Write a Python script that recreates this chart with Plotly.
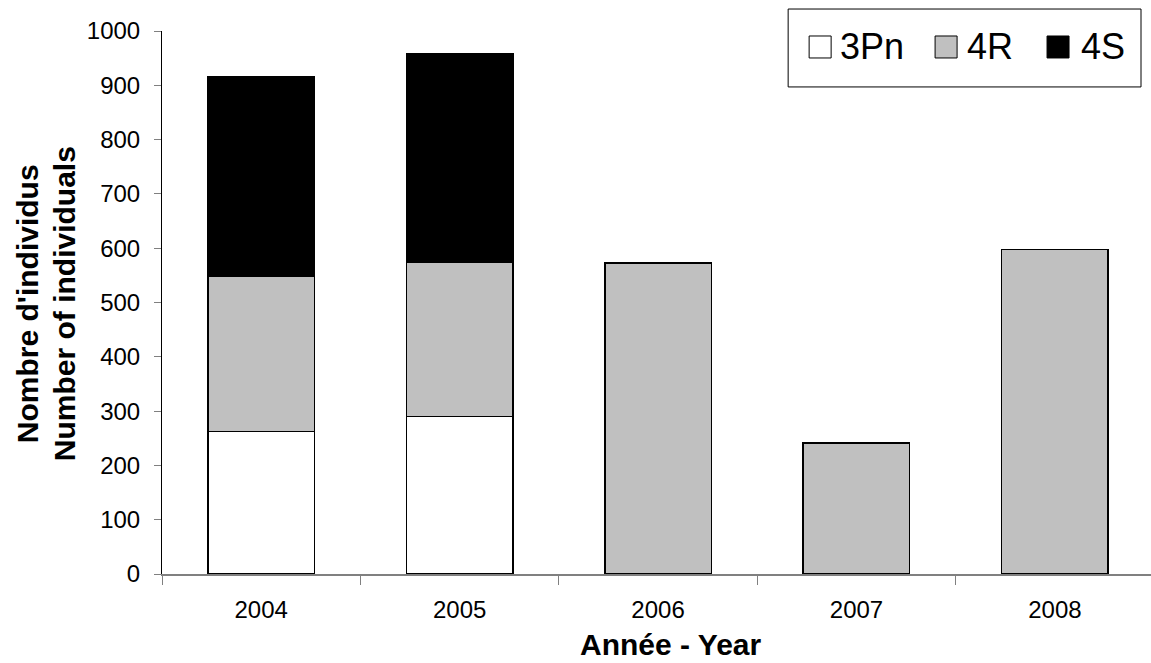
import plotly.graph_objects as go

# Counts per year and management unit
years = ["2004", "2005", "2006", "2007", "2008"]
n_3pn = [262, 290, None, None, None]
n_4r = [287, 284, 573, 241, 598]
n_4s = [367, 384, None, None, None]

series_names = ["3Pn", "4R", "4S"]
series_colors = ["#FFFFFF", "#C0C0C0", "#000000"]
series_values = [n_3pn, n_4r, n_4s]

y_ticks = list(range(0, 1001, 100))

# Figure geometry (pixels)
W, H = 1151, 663
ML, MR, MT, MB = 161.6, 0, 31, 88.5
PW, PH = W - ML - MR, H - MT - MB
CAT_PX = 198.5


def px_x(px):
    return (px - ML) / PW


def px_y(py):
    return (H - MB - py) / PH


FONT = "Liberation Sans, Arial, sans-serif"

fig = go.Figure()
for name, color, vals in zip(series_names, series_colors, series_values):
    fig.add_trace(go.Bar(
        x=years, y=vals, name=name,
        marker=dict(color=color, line=dict(color="#000000", width=1.5)),
        width=0.537, showlegend=False,
    ))

# Legend drawn as a framed box with square swatches
shapes = [dict(type="rect", xref="paper", yref="paper",
               x0=px_x(788), x1=px_x(1141), y0=px_y(87), y1=px_y(9),
               line=dict(color="#000000", width=1), fillcolor="#FFFFFF")]
annotations = []
swatch_left = [809, 935, 1047]
text_left = [838, 965, 1079]
for name, color, sx, tx in zip(series_names, series_colors, swatch_left, text_left):
    shapes.append(dict(type="rect", xref="paper", yref="paper",
                       x0=px_x(sx), x1=px_x(sx + 22), y0=px_y(58), y1=px_y(36),
                       line=dict(color="#000000", width=1), fillcolor=color))
    annotations.append(dict(text=name, xref="paper", yref="paper",
                            x=px_x(tx), y=px_y(47), xanchor="left", yanchor="middle",
                            showarrow=False, font=dict(family=FONT, size=36, color="#000000")))

# Axis titles
annotations.append(dict(text="<b>Année - Year</b>", xref="paper", yref="paper",
                        x=px_x(671), y=px_y(645), xanchor="center", yanchor="middle",
                        showarrow=False, font=dict(family=FONT, size=30, color="#000000")))
for label, cx in [("<b>Nombre d'individus</b>", 27), ("<b>Number of individuals</b>", 64)]:
    annotations.append(dict(text=label, xref="paper", yref="paper",
                            x=px_x(cx), y=px_y(304), xanchor="center", yanchor="middle",
                            textangle=-90, showarrow=False,
                            font=dict(family=FONT, size=30, color="#000000")))

fig.update_layout(
    width=W, height=H,
    margin=dict(l=ML, r=MR, t=MT, b=MB, pad=0),
    barmode="stack",
    paper_bgcolor="#FFFFFF", plot_bgcolor="#FFFFFF",
    font=dict(family=FONT, color="#000000"),
    shapes=shapes, annotations=annotations,
    xaxis=dict(
        type="category", range=[-0.5, -0.5 + PW / CAT_PX],
        tickson="boundaries", ticks="outside", ticklen=9, tickwidth=1,
        tickcolor="#808080", showline=True, linecolor="#808080", linewidth=1.5,
        showgrid=False, zeroline=False,
        tickfont=dict(family=FONT, size=24, color="#000000"),
        ticklabelstandoff=13,
    ),
    yaxis=dict(
        range=[0, 1000], tickvals=y_ticks, ticks="outside", ticklen=7, tickwidth=1,
        tickcolor="#808080", showline=True, linecolor="#000000", linewidth=1,
        showgrid=False, zeroline=False,
        tickfont=dict(family=FONT, size=24, color="#000000"),
        ticklabelstandoff=9,
    ),
)

fig.write_html("out.html")
